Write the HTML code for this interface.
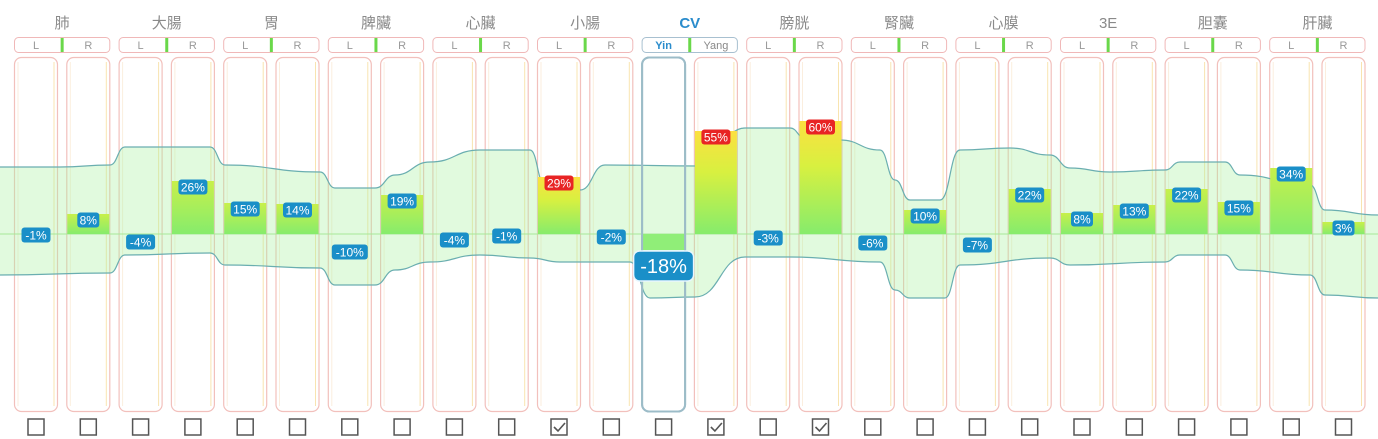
<!DOCTYPE html>
<html><head><meta charset="utf-8">
<style>
html,body{margin:0;padding:0;background:#fff;}
svg{display:block;font-family:"Liberation Sans","Noto Sans CJK TC",sans-serif;}
</style></head>
<body>
<svg id="s" width="1378" height="439" viewBox="0 0 1378 439" xmlns="http://www.w3.org/2000/svg">
<defs>
<linearGradient id="gb" x1="0" y1="1" x2="0" y2="0">
<stop offset="0" stop-color="#86ec6c"/><stop offset="1" stop-color="#c8f04a"/></linearGradient>
<linearGradient id="gr" x1="0" y1="1" x2="0" y2="0">
<stop offset="0" stop-color="#86ec6c"/><stop offset="0.6" stop-color="#d8f040"/><stop offset="1" stop-color="#fce040"/></linearGradient>
</defs>
</svg>
<script>
const s=document.getElementById('s');
const NS='http://www.w3.org/2000/svg';
function el(t,a,txt){const e=document.createElementNS(NS,t);for(const k in a)e.setAttribute(k,a[k]);if(txt!==undefined)e.textContent=txt;s.appendChild(e);return e;}
const groups=['肺','大腸','胃','脾臟','心臟','小腸','CV','膀胱','腎臟','心膜','3E','胆囊','肝臟'];
const vals=[-1,8,-4,26,15,14,-10,19,-4,-1,29,-2,-18,55,-3,60,-6,10,-7,22,8,13,22,15,34,3];
const ly=[235,220,242,187,209,210,252,201,240,236,183,237,266,137,238,127,243,216,245,195,219,211,195,208,174,228];
const red=[10,13,15];
const checked=[10,13,15];
const W=44,P=52.3,X0=14,BASE=234;
for(let i=0;i<26;i++){
 const x=X0+i*P;
 const cv=i==12;
 el('rect',{x:x+0.5,y:57.5,width:W-1,height:354,rx:7,fill:'#fff',stroke:cv?'#9cbcc8':'#f2c0bc','stroke-width':cv?2:1.2});
 if(!cv){el('line',{x1:x+W-4,y1:62,x2:x+W-4,y2:406,stroke:'#f8e4b0','stroke-width':1});el('line',{x1:x+4,y1:62,x2:x+4,y2:406,stroke:'#fbeede','stroke-width':1});}
}
const up=[[0,167],[60,167],[110,165],[125,147],[210,147],[225,165],[320,172],[335,188],[375,188],[395,175],[430,162],[480,150],[530,150],[545,185],[580,190],[605,165],[700,166],[745,128],[790,128],[805,138],[840,140],[880,150],[895,180],[910,200],[940,200],[960,150],[1010,148],[1050,155],[1070,168],[1110,172],[1165,170],[1180,162],[1225,162],[1240,175],[1310,185],[1325,210],[1378,215]];
const lo=[[0,275],[110,273],[125,255],[210,253],[225,265],[320,268],[335,285],[375,285],[395,270],[430,262],[480,255],[530,258],[560,262],[630,262],[650,298],[695,297],[745,257],[790,257],[880,262],[895,290],[910,298],[945,298],[960,265],[1050,258],[1070,265],[1165,262],[1180,255],[1225,255],[1240,270],[1310,275],[1325,295],[1378,298]];
function smooth(pts){let d='M'+pts[0][0]+','+pts[0][1];for(let i=1;i<pts.length;i++){const [x0,y0]=pts[i-1],[x1,y1]=pts[i];const mx=(x0+x1)/2;d+=' C'+mx+','+y0+' '+mx+','+y1+' '+x1+','+y1;}return d;}
const lor=lo.slice().reverse();
let dFill=smooth(up)+' L'+lor[0][0]+','+lor[0][1]+smooth(lor).slice(smooth(lor).indexOf(' C'))+' Z';
el('path',{d:dFill,fill:'rgba(170,240,160,0.35)',stroke:'none'});
el('path',{d:smooth(up),fill:'none',stroke:'#6aaeb0','stroke-width':1.2});
el('path',{d:smooth(lo),fill:'none',stroke:'#6aaeb0','stroke-width':1.2});
el('line',{x1:0,y1:BASE,x2:1378,y2:BASE,stroke:'#a8e898','stroke-width':1});
for(let i=0;i<26;i++){
 const x=X0+i*P+1, v=vals[i];
 if(v>0){const top=ly[i]-6;el('rect',{x:x,y:top,width:W-2,height:BASE-top,fill:red.includes(i)?'url(#gr)':'url(#gb)'});}
 else if(i==12){el('rect',{x:x,y:BASE,width:W-2,height:16,fill:'#90ee78'});}
}
el('rect',{x:X0+12*P+0.5,y:57.5,width:W-1,height:354,rx:7,fill:'none',stroke:'#9cbcc8','stroke-width':2});
for(let g=0;g<13;g++){
 const x=X0+g*2*P, w=P+W, cx=x+w/2, cv=g==6;
 el('text',{x:cx,y:28,'text-anchor':'middle','font-size':15,fill:cv?'#2a8ccc':'#8a8a8a','font-weight':cv?'bold':'normal'},groups[g]);
 el('rect',{x:x+0.5,y:37.5,width:w-1,height:15,rx:4,fill:'#fff',stroke:cv?'#a8c0d0':'#f0b8b8'});
 el('rect',{x:cx-1.5,y:38,width:3,height:14,fill:'#6ad84a'});
 if(cv){
  el('text',{x:x+W/2,y:49,'text-anchor':'middle','font-size':11,fill:'#2a8ccc','font-weight':'bold'},'Yin');
  el('text',{x:x+P+W/2,y:49,'text-anchor':'middle','font-size':11,fill:'#888'},'Yang');
 } else {
  el('text',{x:x+W/2,y:49,'text-anchor':'middle','font-size':11,fill:'#999'},'L');
  el('text',{x:x+P+W/2,y:49,'text-anchor':'middle','font-size':11,fill:'#999'},'R');
 }
}
for(let i=0;i<26;i++){
 const cx=X0+i*P+W/2, y=ly[i], v=vals[i];
 if(i==12){
  el('rect',{x:cx-30,y:y-15,width:60,height:30,rx:6,fill:'#1a8fc8',stroke:'#e8f6ff','stroke-width':1.5});
  el('text',{x:cx,y:y+7,'text-anchor':'middle','font-size':20,fill:'#fff'},v+'%');
  continue;
 }
 const r=red.includes(i);
 const w=(String(v).length+1)*7+8;
 el('rect',{x:cx-w/2,y:y-7.5,width:w,height:15,rx:3,fill:r?'#e82424':'#1a8fc8'});
 el('text',{x:cx,y:y+4.5,'text-anchor':'middle','font-size':12,fill:'#fff'},v+'%');
}
for(let i=0;i<26;i++){
 const cx=X0+i*P+W/2;
 el('rect',{x:cx-8,y:419,width:16,height:16,fill:'#fff',stroke:'#555','stroke-width':1.5});
 if(checked.includes(i))el('path',{d:`M${cx-5},${427} L${cx-1},${431} L${cx+6},${423}`,fill:'none',stroke:'#555','stroke-width':1.6});
}
</script>
</body></html>
